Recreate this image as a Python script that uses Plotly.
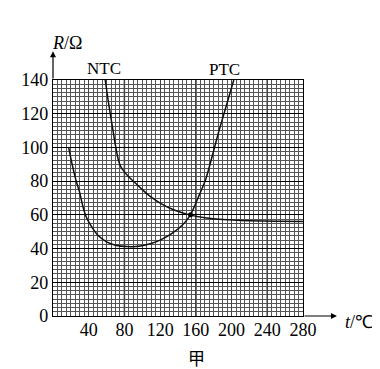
import plotly.graph_objects as go

# NTC curve (t in °C, R in Ω)
ntc_t = [58.5, 62, 66, 70, 73, 76, 80, 85, 90, 100, 110, 120, 135, 153, 170, 190, 220, 250, 280]
ntc_r = [140, 127, 114, 101, 93, 88.5, 85.5, 82.5, 80, 75, 70.5, 67, 63, 60, 58.3, 57.2, 56.5, 56.2, 56]

# PTC curve
ptc_t = [17.5, 21, 26, 30, 33, 37, 42, 50, 60, 70, 83, 98, 110, 120, 132, 145, 154, 164, 171, 186, 202.5]
ptc_r = [100, 91, 80, 73, 66, 59, 54, 48, 44, 42, 41.2, 41.5, 43, 45, 48.5, 54, 60, 72, 81, 110, 140]

# intersection point
cross_t = [154]
cross_r = [60]

x_ticks = [40, 80, 120, 160, 200, 240, 280]
y_ticks = [0, 20, 40, 60, 80, 100, 120, 140]
x_major = [80, 160, 240]

serif = "Liberation Serif, Times New Roman, serif"

fig = go.Figure()
fig.add_trace(go.Scatter(x=ntc_t, y=ntc_r, mode="lines",
                         line=dict(color="#111", width=1.5, shape="spline", smoothing=0.6),
                         hoverinfo="skip", showlegend=False))
fig.add_trace(go.Scatter(x=ptc_t, y=ptc_r, mode="lines",
                         line=dict(color="#111", width=1.5, shape="spline", smoothing=0.6),
                         hoverinfo="skip", showlegend=False))
fig.add_trace(go.Scatter(x=cross_t, y=cross_r, mode="markers",
                         marker=dict(color="#000", size=5),
                         hoverinfo="skip", showlegend=False))

for xv in x_major:
    fig.add_shape(type="line", xref="x", yref="y", x0=xv, x1=xv, y0=0, y1=140,
                  line=dict(color="#000", width=1.4), layer="below")

# page body has an 8px margin, so the figure is offset by 8px
fig.update_layout(
    width=372, height=361,
    margin=dict(l=45, r=77, t=72, b=53, autoexpand=False),
    paper_bgcolor="white", plot_bgcolor="white",
    font=dict(family=serif, size=18, color="#000"),
)
fig.update_xaxes(
    range=[0, 280], tickvals=x_ticks, ticktext=[str(v) for v in x_ticks],
    showgrid=True, gridcolor="#444", gridwidth=0.8,
    minor=dict(dtick=5, tick0=0, showgrid=True, gridcolor="#555", gridwidth=0.7),
    showline=True, linecolor="#000", linewidth=1.2, mirror=True,
    ticks="", zeroline=False, tickfont=dict(family=serif, size=18),
    ticklabelstandoff=-3,
)
fig.update_yaxes(
    range=[0, 140], tickvals=y_ticks, ticktext=[str(v) for v in y_ticks],
    showgrid=True, gridcolor="#000", gridwidth=1.4,
    minor=dict(dtick=2.5, tick0=0, showgrid=True, gridcolor="#555", gridwidth=0.7),
    showline=True, linecolor="#000", linewidth=1.2, mirror=True,
    ticks="", zeroline=False, tickfont=dict(family=serif, size=18),
)

# axis arrows
fig.add_annotation(xref="x", yref="y", axref="x", ayref="y", x=0, y=157, ax=0, ay=140,
                   showarrow=True, arrowhead=2, arrowsize=1, arrowwidth=1.2, arrowcolor="#000", text="")
fig.add_annotation(xref="x", yref="y", axref="x", ayref="y", x=318, y=0, ax=280, ay=0,
                   showarrow=True, arrowhead=2, arrowsize=1, arrowwidth=1.2, arrowcolor="#000", text="")

def ann(px, py, text, size, family=serif):
    fig.add_annotation(xref="paper", yref="paper", x=(px - 53) / 250, y=(316 - py) / 236,
                       xanchor="center", yanchor="middle",
                       text=text, showarrow=False, font=dict(family=family, size=size))

ann(67, 43, "<i>R</i>/Ω", 18)
ann(359, 322, "<i>t</i>/℃", 18)
ann(104, 69, "NTC", 17)
ann(224, 70, "PTC", 17)
ann(196, 357, "甲", 17, "Noto Sans CJK SC")

fig.write_html("out.html")
